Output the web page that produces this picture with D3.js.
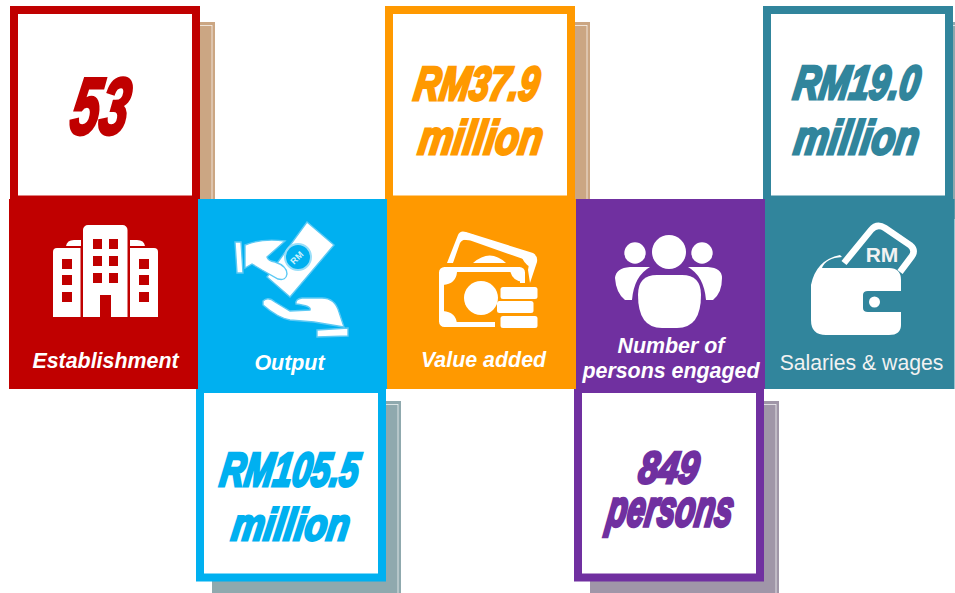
<!DOCTYPE html>
<html><head><meta charset="utf-8">
<script src="https://cdnjs.cloudflare.com/ajax/libs/d3/7.8.5/d3.min.js"></script>
<style>html,body{margin:0;padding:0;background:#fff}svg{display:block}</style>
</head><body><svg id="c" width="955" height="593"></svg>
<script>
// ---- data ----
const categories = ["Establishment","Output","Value added","Number of|persons engaged","Salaries & wages"];
const values = ["53","RM105.5|million","RM37.9|million","849|persons","RM19.0|million"];
const colours = ["#C00000","#00B0F0","#FF9900","#7030A0","#31859C"];
const shadows = ["#CBA683","#8FA9AE","#CBA683","#A096A8","#8FA9AE"];
const cardSide = ["top","bottom","top","bottom","top"];

// ---- layout (not data) ----
const W=955,H=593;
const x=d3.scaleBand().domain(d3.range(5)).range([9,954]);
const panelTop=199,panelBottom=389;
const cardBox={top:{y0:6,y1:203.5},bottom:{y0:385,y1:581.5}};
const cardDx=[1,-2,-2,-2,-2];
const valueInk=[
 [[100,135,60,60,.73]],
 [[289,487,141,36,.73],[290,541,120,34,.73]],
 [[476,101,127,36,.73],[480,155,126,36,.73]],
 [[668,484,62,34,.73],[669,527,128,29,.54]],
 [[856,100,128,36,.73],[856,155,127,36,.73]]
];
const labelInk=[
 [[105.5,368,21.4,1]],
 [[289.5,370,21.4,1]],
 [[483.5,367,21.4,1]],
 [[671,353,21.4,1],[671,378,21.4,1]],
 [[861.500,370,21.2,0]]
];
const svg=d3.select("#c");
const idx=d3.range(5);
const skew=Math.tan(9*Math.PI/180);

// shadows behind cards
svg.append("g").selectAll("g").data(idx).join("g").each(function(i){
  const c=cardBox[cardSide[i]],left=x(i)+cardDx[i]+16;
  const y0=c.y0+16, y1=cardSide[i]=="top"?panelTop+20:H;
  const g=d3.select(this);
  g.append("rect").attr("x",left).attr("y",y0).attr("width",x.bandwidth()).attr("height",y1-y0).attr("fill",shadows[i]);
  g.append("rect").attr("x",left-6).attr("y",y0+3.5).attr("width",x.bandwidth()+3).attr("height",y1-y0+10).attr("fill","none").attr("stroke","#fff").attr("stroke-opacity",.85).attr("stroke-width",.8);
});

// cards
svg.append("g").selectAll("rect").data(idx).join("rect")
 .attr("x",i=>x(i)+cardDx[i]+4)
 .attr("y",i=>cardBox[cardSide[i]].y0+4)
 .attr("width",x.bandwidth()-7)
 .attr("height",i=>cardBox[cardSide[i]].y1-cardBox[cardSide[i]].y0-8)
 .attr("fill","#fff").attr("stroke",i=>colours[i]).attr("stroke-width",8);

// panels
svg.append("g").selectAll("rect").data(idx).join("rect")
 .attr("x",i=>x(i)).attr("y",panelTop).attr("width",x.bandwidth()+.5).attr("height",panelBottom-panelTop)
 .attr("fill",i=>colours[i]);

// big values
idx.forEach(i=>{
  values[i].split("|").forEach((t,k)=>{
    const [cx,base,w,h,em]=valueInk[i][k];
    const fs=100;
    const tx=svg.append("text").text(t).attr("font-family","'Liberation Sans'").attr("font-weight",700).attr("font-style","italic")
      .attr("font-size",fs).attr("text-anchor","middle").attr("fill",colours[i]);
    const len=tx.node().getComputedTextLength();
    const sw=2.6;
    const sx=(w-sw)/len, sy=(h-sw/2)/(em*fs);
    tx.attr("transform",`translate(${cx-h*skew/2+1.5},${base-sw/2}) matrix(1,0,${-skew},1,0,0) scale(${sx},${sy})`)
      .attr("stroke",colours[i]).attr("stroke-width",sw/Math.sqrt(sx*sy))
      .attr("stroke-linejoin","miter");
  });
});

// labels
idx.forEach(i=>{
  categories[i].split("|").forEach((t,k)=>{
    const [cx,base,fs,bold]=labelInk[i][k];
    svg.append("text").text(t).attr("x",cx).attr("y",base).attr("text-anchor","middle")
      .attr("font-family","'Liberation Sans'").attr("font-size",fs)
      .attr("font-weight",bold?700:400).attr("font-style",bold?"italic":"normal")
      .attr("fill",bold?"#fff":"#F2F2F2");
  });
});

// ---- icons ----
const icons=svg.append("g");
function building(){
  const r=colours[0],g=icons.append("g").attr("fill","#fff");
  g.append("path").attr("d","M83,317V230a5,5 0 0 1 5-5H122.500a5,5 0 0 1 5,5V317H111V295H100V317Z");
  g.append("path").attr("d","M53,317V252a4,4 0 0 1 4-4H80.500V317Z");
  g.append("path").attr("d","M158,317V252a4,4 0 0 0-4-4H130V317Z");
  g.append("path").attr("d","M66,246Q67,240 74,240H81V246Z");
  g.append("path").attr("d","M145,246Q144,240 137,240H130V246Z");
  [[93,239],[109,239],[93,256],[109,256],[93,273],[109,273],[62,259],[62,275],[62,292],[139,259],[139,275],[139,292]]
   .forEach(p=>g.append("rect").attr("x",p[0]).attr("y",p[1]).attr("width",p[0]>130||p[0]<70?10:9).attr("height",10).attr("fill",r));
}
function outputIcon(){
  const g=icons.append("g").attr("fill","#fff").attr("stroke","#5CC9F4").attr("stroke-width",1.4);
  g.append("path").attr("d","M307,222L334,245L290,297L267,277Z");
  g.append("circle").attr("cx",298).attr("cy",257).attr("r",13).attr("fill","#00B0F0").attr("stroke","#9ADFF9").attr("stroke-width",2);
  g.append("text").text("RM").attr("transform","translate(299,260) rotate(-45)").attr("text-anchor","middle")
    .attr("font-family","'Liberation Sans'").attr("font-size",9).attr("font-weight",700).attr("fill","#CFF1FC").attr("stroke","none");
  g.append("path").attr("d","M245,245Q262,238 285,241L267,257Q268,261 275,262Q287,266 287,274Q286,281 278,279L262,270L252,264L245,268Z");
  g.append("path").attr("d","M235,242H241L243,273H237Z");
  g.append("path").attr("d","M263,301Q268,296 275,302L290,311L310,310Q312,306 296,304Q295,299 302,298H322Q335,298 339,312L344,327L314,322L290,320Q278,318 263,305Z");
  g.append("path").attr("d","M317,330L348,328V336L317,337Z");
}
function valueIcon(){
  const o=colours[2],g=icons.append("g");
  g.append("path").attr("d","M447,263L458,235Q460,230 466,232L533,253Q538,256 537,262L530,283L528,270Q530,262 526,260L469,240Q463,238 460,243L453,263Z").attr("fill","#fff");
  g.append("path").attr("d","M459,238Q466,241 471,240L474,235L464,232Z").attr("fill","#fff");
  g.append("path").attr("d","M534,254L522,258Q526,266 533,268Z").attr("fill","#fff");
  g.append("path").attr("d","M473,263Q490,248 506,263Z").attr("fill","#fff");
  g.append("rect").attr("x",441.500).attr("y",269.500).attr("width",81).attr("height",55).attr("rx",3).attr("fill","none").attr("stroke","#fff").attr("stroke-width",5);
  g.append("rect").attr("x",495).attr("y",283).attr("width",45).attr("height",48).attr("fill",o);
  g.append("path").attr("d","M443,272V285Q456,284 457,272Z").attr("fill","#fff");
  g.append("path").attr("d","M443,324V311Q456,312 457,324Z").attr("fill","#fff");
  g.append("path").attr("d","M510,271L524,272V282Q513,282 510,271Z").attr("fill","#fff");
  g.append("circle").attr("cx",481).attr("cy",298).attr("r",17).attr("fill","#fff");
  [[500.500,287,37],[497,301,36.500],[500.500,316,37]].forEach(p=>g.append("rect").attr("x",p[0]).attr("y",p[1]).attr("width",p[2]).attr("height",12).attr("rx",2.5).attr("fill","#fff"));
}
function people(){
  const g=icons.append("g").attr("fill","#fff");
  [[669,252,17],[635,253,10.7],[702,253,10.7]].forEach(c=>g.append("circle").attr("cx",c[0]).attr("cy",c[1]).attr("r",c[2]));
  g.append("path").attr("d","M657,275H682Q701,275 701,295Q701,328 677,328H662Q638,328 638,295Q638,275 657,275Z");
  g.append("path").attr("d","M630,267H650Q634,276 632,300H625Q616,293 615,278Q616,268 630,267Z");
  g.append("path").attr("d","M708,267H688Q704,276 706,300H713Q722,293 722,278Q722,268 708,267Z");
}
function wallet(){
  const t=colours[4],g=icons.append("g");
  g.append("path").attr("d","M844,263L871,230Q877,223 885,228L910,245Q916,250 912,256L900,272").attr("fill","none").attr("stroke","#fff").attr("stroke-width",6.500);
  g.append("path").attr("d","M811,285Q816,260 840,255L842,257Q826,258 822,268H889Q901,268 901,280V291H868Q863,291 863,295V308Q863,312 868,312H901V325Q901,335 889,335H826Q811,335 811,320Z").attr("fill","#fff");
  g.append("circle").attr("cx",874.5).attr("cy",302).attr("r",5.5).attr("fill","#fff");
  g.append("text").text("RM").attr("x",882).attr("y",262).attr("text-anchor","middle").attr("font-family","'Liberation Sans'").attr("font-weight",700).attr("font-size",21).attr("fill","#F2F2F2");
}
building();outputIcon();valueIcon();people();wallet();
</script></body></html>
